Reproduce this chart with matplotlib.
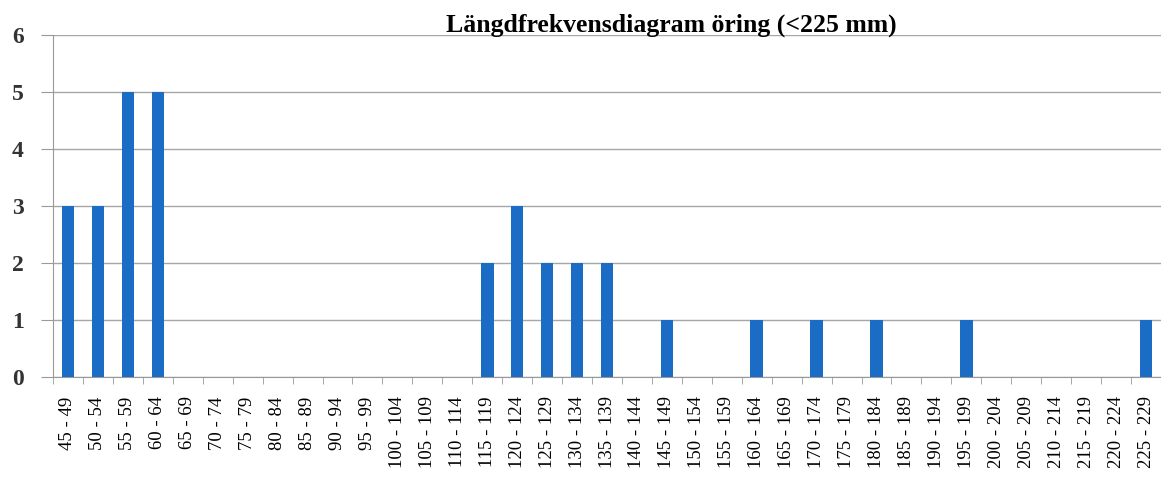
import matplotlib
matplotlib.use("Agg")
import matplotlib.pyplot as plt
import numpy as np

categories = [f"{s} - {s+4}" for s in range(45, 230, 5)]
value_map = {"45 - 49": 3, "50 - 54": 3, "55 - 59": 5, "60 - 64": 5,
             "115 - 119": 2, "120 - 124": 3, "125 - 129": 2, "130 - 134": 2,
             "135 - 139": 2, "145 - 149": 1, "160 - 164": 1, "170 - 174": 1,
             "180 - 184": 1, "195 - 199": 1, "225 - 229": 1}
values = [value_map.get(c, 0) for c in categories]
title = "Längdfrekvensdiagram öring (<225 mm)"

plt.rcParams['font.family'] = ['Liberation Serif', 'DejaVu Serif']

fig = plt.figure(figsize=(11.61, 4.8), dpi=100)
ax = fig.add_axes([53/1161, 1-377/480, 1-53/1161, (377-35)/480])

x = np.arange(len(categories))
ax.bar(x, values, width=0.42, color='#1a6cc4', zorder=3)

ax.set_xlim(-0.5, 36.33)
ax.set_ylim(0, 6)
ax.set_yticks(range(0, 7))
ax.yaxis.grid(True, color='#a6a6a6', linewidth=1.0, zorder=0)
ax.tick_params(axis='y', labelsize=17, length=9, color='#999999', pad=12)
for lbl in ax.get_yticklabels():
    lbl.set_fontweight('bold')
    lbl.set_color('#333333')

ax.set_xticks(x)
ax.set_xticklabels(categories, rotation=90, fontsize=13.5)
ax.set_xticks(np.arange(-0.5, len(categories), 1), minor=True)
ax.tick_params(axis='x', which='major', length=0, pad=14)
ax.tick_params(axis='x', which='minor', length=5, color='#999999')

for s in ['top', 'right']:
    ax.spines[s].set_visible(False)
ax.spines['left'].set_color('#999999')
ax.spines['bottom'].set_color('#999999')

fig.text(671/1161, 1-25/480, title, ha='center', va='center',
         fontsize=18.5, fontweight='bold')

fig.savefig('out.png', dpi=100)
